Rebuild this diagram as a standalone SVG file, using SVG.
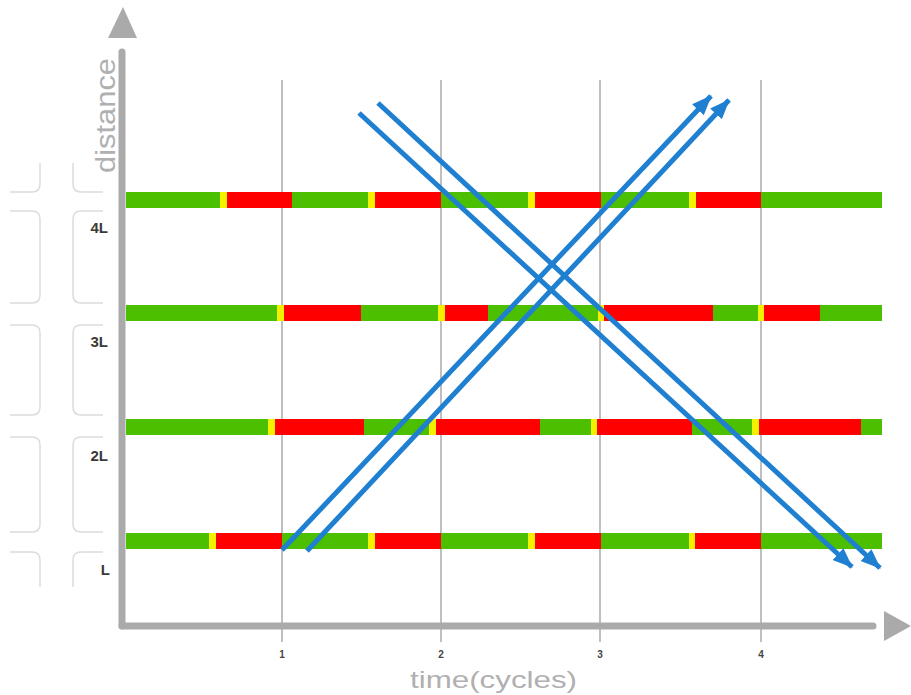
<svg xmlns="http://www.w3.org/2000/svg" width="911" height="695" viewBox="0 0 911 695">
<style>
.blk{fill:none;stroke:#dcdcdc;stroke-width:1.5}
.grid{stroke:#aaaaaa;stroke-width:1.5}
.axis{stroke:#aaaaaa;stroke-width:7;stroke-linecap:round;fill:none}
.g{fill:#4cbf00}.r{fill:#ff0000}.y{fill:#f2f200}
.arr{stroke:#1f7fd0;stroke-width:5;fill:none;marker-end:url(#ah)}
.lbl{font-family:"Liberation Sans",Arial,sans-serif;font-weight:bold;font-size:15px;fill:#3a3a3a;text-anchor:end}
.tick{font-family:"Liberation Sans",Arial,sans-serif;font-weight:bold;font-size:10px;fill:#444;text-anchor:middle}
.ax{font-family:"Liberation Sans",Arial,sans-serif;fill:#b0b0b0}
</style>
<defs>
<marker id="ah" markerUnits="userSpaceOnUse" markerWidth="22" markerHeight="18" refX="19" refY="8" orient="auto">
<path d="M0,0 L20,8 L0,16 z" fill="#1f7fd0"/>
</marker>
</defs>
<rect width="911" height="695" fill="#ffffff"/>
<g id="blocks">
<path class="blk" d="M10,192 H32 Q40,192 40,184 V163"/>
<path class="blk" d="M10,211 H32 Q40,211 40,219 V295 Q40,303 32,303 H10"/>
<path class="blk" d="M10,325 H32 Q40,325 40,333 V407 Q40,415 32,415 H10"/>
<path class="blk" d="M10,437 H32 Q40,437 40,445 V524 Q40,532 32,532 H10"/>
<path class="blk" d="M10,552 H32 Q40,552 40,560 V587"/>
<path class="blk" d="M103,192 H81 Q73,192 73,184 V163"/>
<path class="blk" d="M103,211 H81 Q73,211 73,219 V295 Q73,303 81,303 H103"/>
<path class="blk" d="M103,325 H81 Q73,325 73,333 V407 Q73,415 81,415 H103"/>
<path class="blk" d="M103,437 H81 Q73,437 73,445 V524 Q73,532 81,532 H103"/>
<path class="blk" d="M103,552 H81 Q73,552 73,560 V587"/>
</g>
<g id="grid">
<line class="grid" x1="282" y1="80" x2="282" y2="642"/>
<line class="grid" x1="441" y1="80" x2="441" y2="642"/>
<line class="grid" x1="600" y1="80" x2="600" y2="642"/>
<line class="grid" x1="761" y1="80" x2="761" y2="642"/>
</g>
<g id="row-4L">
<rect class="g" x="126" y="192" width="94" height="16"/>
<rect class="y" x="220" y="192" width="7" height="16"/>
<rect class="r" x="227" y="192" width="65" height="16"/>
<rect class="g" x="292" y="192" width="76" height="16"/>
<rect class="y" x="368" y="192" width="7" height="16"/>
<rect class="r" x="375" y="192" width="66" height="16"/>
<rect class="g" x="441" y="192" width="87" height="16"/>
<rect class="y" x="528" y="192" width="7" height="16"/>
<rect class="r" x="535" y="192" width="66" height="16"/>
<rect class="g" x="601" y="192" width="88" height="16"/>
<rect class="y" x="689" y="192" width="7" height="16"/>
<rect class="r" x="696" y="192" width="65" height="16"/>
<rect class="g" x="761" y="192" width="121" height="16"/>
</g>
<g id="row-3L">
<rect class="g" x="126" y="305" width="151" height="16"/>
<rect class="y" x="277" y="305" width="7" height="16"/>
<rect class="r" x="284" y="305" width="77" height="16"/>
<rect class="g" x="361" y="305" width="77" height="16"/>
<rect class="y" x="438" y="305" width="7" height="16"/>
<rect class="r" x="445" y="305" width="43" height="16"/>
<rect class="g" x="488" y="305" width="110" height="16"/>
<rect class="y" x="598" y="305" width="6" height="16"/>
<rect class="r" x="604" y="305" width="109" height="16"/>
<rect class="g" x="713" y="305" width="45" height="16"/>
<rect class="y" x="758" y="305" width="6" height="16"/>
<rect class="r" x="764" y="305" width="56" height="16"/>
<rect class="g" x="820" y="305" width="62" height="16"/>
</g>
<g id="row-2L">
<rect class="g" x="126" y="419" width="142" height="16"/>
<rect class="y" x="268" y="419" width="7" height="16"/>
<rect class="r" x="275" y="419" width="89" height="16"/>
<rect class="g" x="364" y="419" width="65" height="16"/>
<rect class="y" x="429" y="419" width="7" height="16"/>
<rect class="r" x="436" y="419" width="104" height="16"/>
<rect class="g" x="540" y="419" width="51" height="16"/>
<rect class="y" x="591" y="419" width="6" height="16"/>
<rect class="r" x="597" y="419" width="95" height="16"/>
<rect class="g" x="692" y="419" width="60" height="16"/>
<rect class="y" x="752" y="419" width="7" height="16"/>
<rect class="r" x="759" y="419" width="102" height="16"/>
<rect class="g" x="861" y="419" width="21" height="16"/>
</g>
<g id="row-L">
<rect class="g" x="126" y="533" width="83" height="16"/>
<rect class="y" x="209" y="533" width="7" height="16"/>
<rect class="r" x="216" y="533" width="66" height="16"/>
<rect class="g" x="282" y="533" width="86" height="16"/>
<rect class="y" x="368" y="533" width="7" height="16"/>
<rect class="r" x="375" y="533" width="66" height="16"/>
<rect class="g" x="441" y="533" width="87" height="16"/>
<rect class="y" x="528" y="533" width="7" height="16"/>
<rect class="r" x="535" y="533" width="66" height="16"/>
<rect class="g" x="601" y="533" width="88" height="16"/>
<rect class="y" x="689" y="533" width="6" height="16"/>
<rect class="r" x="695" y="533" width="66" height="16"/>
<rect class="g" x="761" y="533" width="121" height="16"/>
</g>
<g id="axes">
<line class="axis" x1="122" y1="52" x2="122" y2="626"/>
<line class="axis" x1="122" y1="626" x2="873" y2="626"/>
<path d="M123,7 L137,38 L108,38 z" fill="#aaaaaa"/>
<path d="M911,626 L884,611 L884,641 z" fill="#aaaaaa"/>
<text class="ax" transform="translate(115,173) rotate(-90)" font-size="27" textLength="115" lengthAdjust="spacingAndGlyphs">distance</text>
<text class="ax" x="410" y="688" font-size="24" textLength="167" lengthAdjust="spacingAndGlyphs">time(cycles)</text>
<text class="tick" x="282" y="658">1</text>
<text class="tick" x="441" y="658">2</text>
<text class="tick" x="600" y="658">3</text>
<text class="tick" x="761" y="658">4</text>
</g>
<g id="labels">
<text class="lbl" x="108" y="233">4L</text>
<text class="lbl" x="108" y="347">3L</text>
<text class="lbl" x="108" y="461">2L</text>
<text class="lbl" x="110" y="575">L</text>
</g>
<g id="connectors">
<line class="arr" x1="282" y1="550" x2="711" y2="96"/>
<line class="arr" x1="307" y1="551" x2="729" y2="100"/>
<line class="arr" x1="359" y1="113" x2="852" y2="567"/>
<line class="arr" x1="378" y1="103" x2="880" y2="568"/>
</g>
</svg>
